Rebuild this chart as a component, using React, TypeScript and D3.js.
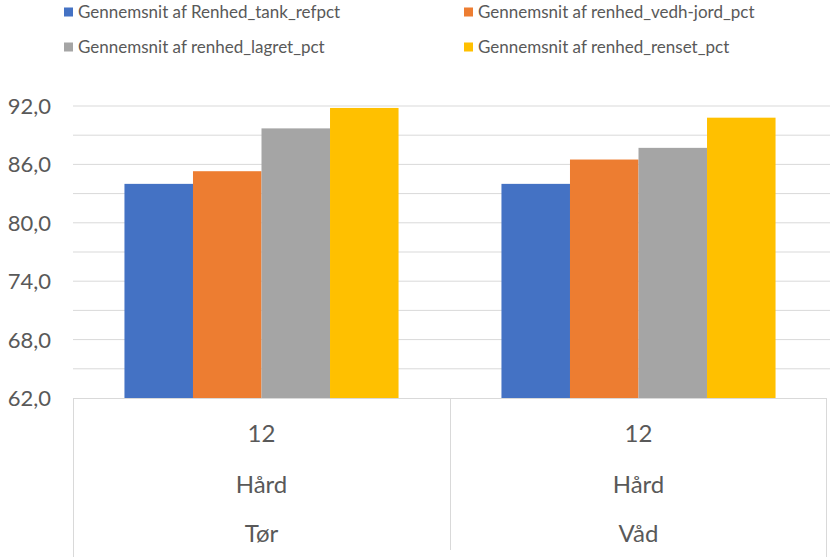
import React from "react";
import * as d3 from "d3";

const groups = ["Tør", "Våd"];
const groupLevel1 = ["12", "12"];
const groupLevel2 = ["Hård", "Hård"];
const seriesNames = [
  "Gennemsnit af Renhed_tank_refpct",
  "Gennemsnit af renhed_vedh-jord_pct",
  "Gennemsnit af renhed_lagret_pct",
  "Gennemsnit af renhed_renset_pct",
];
const seriesColors = ["#4472C4", "#ED7D31", "#A5A5A5", "#FFC000"];
const tankValues = [84.0, 84.0];
const vedhValues = [85.3, 86.5];
const lagretValues = [89.7, 87.7];
const rensetValues = [91.8, 90.8];
const yTicks = [62, 68, 74, 80, 86, 92];
const gridValues = [65, 68, 71, 74, 77, 80, 83, 86, 89, 92];

const W = 833;
const H = 557;
const FONT = "Lato, 'Open Sans', sans-serif";
const TEXT = "#595959";

export default function App() {
  const seriesValues = [tankValues, vedhValues, lagretValues, rensetValues];
  const plotLeft = 73;
  const plotRight = 827;
  const plotTop = 106;
  const plotBottom = 398;

  const y = d3.scaleLinear().domain([62, 92]).range([plotBottom, plotTop]);
  const x0 = d3
    .scaleBand<string>()
    .domain(groups)
    .range([plotLeft, plotRight])
    .paddingInner(0.273)
    .paddingOuter(0.1365);
  const x1 = d3
    .scaleBand<number>()
    .domain(d3.range(seriesNames.length))
    .range([0, x0.bandwidth()])
    .padding(0);

  const step = x0.step();
  const fmt = (v: number) => d3.format(".1f")(v).replace(".", ",");

  const legendPos = [
    [64, 12],
    [464, 12],
    [64, 47],
    [464, 47],
  ];

  return (
    <svg
      width={W}
      height={H}
      style={{ position: "absolute", left: 0, top: 0, background: "#fff" }}
    >
      {/* gridlines */}
      {gridValues.map((g) => (
        <line
          key={g}
          x1={plotLeft}
          x2={plotRight + 3}
          y1={y(g)}
          y2={y(g)}
          stroke="#d9d9d9"
          strokeWidth={1}
        />
      ))}
      {/* y tick labels */}
      {yTicks.map((t) => (
        <text
          key={t}
          x={51}
          y={y(t)}
          dy="0.36em"
          textAnchor="end"
          fontFamily={FONT}
          fontSize={22}
          fill={TEXT}
        >
          {fmt(t)}
        </text>
      ))}
      {/* bars */}
      {groups.map((g, gi) => (
        <g key={g} transform={`translate(${x0(g)},0)`}>
          {seriesValues.map((vals, si) => (
            <rect
              key={si}
              x={x1(si)}
              width={x1.bandwidth()}
              y={y(vals[gi])}
              height={y(62) - y(vals[gi])}
              fill={seriesColors[si]}
            />
          ))}
        </g>
      ))}
      {/* category box */}
      <line x1={plotLeft} x2={plotRight} y1={plotBottom + 0.5} y2={plotBottom + 0.5} stroke="#d9d9d9" />
      <line x1={plotLeft + 0.5} x2={plotLeft + 0.5} y1={plotBottom} y2={H} stroke="#d9d9d9" />
      <line x1={plotRight - 0.5} x2={plotRight - 0.5} y1={plotBottom} y2={H} stroke="#d9d9d9" />
      {groups.slice(1).map((g, i) => (
        <line
          key={g}
          x1={plotLeft + step * (i + 1) + 0.5}
          x2={plotLeft + step * (i + 1) + 0.5}
          y1={plotBottom}
          y2={550}
          stroke="#d9d9d9"
        />
      ))}
      {groups.map((g, gi) => {
        const cx = (x0(g) as number) + x0.bandwidth() / 2;
        return (
          <g key={g} fontFamily={FONT} fontSize={24} fill={TEXT} textAnchor="middle">
            <text x={cx} y={442}>{groupLevel1[gi]}</text>
            <text x={cx} y={493}>{groupLevel2[gi]}</text>
            <text x={cx} y={542}>{g}</text>
          </g>
        );
      })}
      {/* legend */}
      {seriesNames.map((name, i) => (
        <g key={name} transform={`translate(${legendPos[i][0]},${legendPos[i][1]})`}>
          <rect x={0} y={-4.5} width={9} height={9} fill={seriesColors[i]} />
          <text x={14} y={0} dy="0.36em" fontFamily={FONT} fontSize={17} fill={TEXT}>
            {name}
          </text>
        </g>
      ))}
    </svg>
  );
}
